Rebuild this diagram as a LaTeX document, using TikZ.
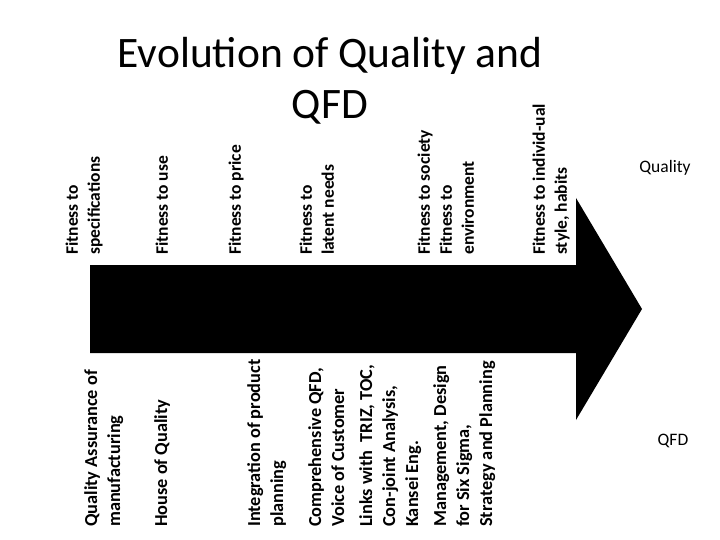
\documentclass[tikz,border=0pt]{standalone}
\usepackage{fontspec}
\setmainfont{Carlito}
\begin{document}
\begin{tikzpicture}[x=1pt,y=-1pt,
  vlabel/.style={rotate=90,anchor=north west,inner sep=0pt,align=left,
    font=\bfseries\fontsize{17.5}{22}\selectfont},
  blabel/.style={vlabel,font=\bfseries\fontsize{18.3}{23}\selectfont},
  side/.style={inner sep=0pt,font=\fontsize{17.5}{21}\selectfont},
  titletext/.style={inner sep=0pt,align=center,font=\fontsize{43.5}{51}\selectfont}]
\useasboundingbox (0,0) rectangle (720,540);
% arrow
\fill[black] (90,265) -- (576,265) -- (576,198) -- (642,309) -- (576,420) -- (576,353) -- (90,353) -- cycle;
% title
\node[titletext,anchor=base] (title) at (330,119) {Evolution of Quality and\\QFD};
% top labels
\node[vlabel] (t1) at (65.5,255) {Fitness to\\specifications};
\node[vlabel] (t2) at (155.5,255) {Fitness to use};
\node[vlabel] (t3) at (228.5,255) {Fitness to price};
\node[vlabel] (t4) at (299.5,255) {Fitness to\\latent needs};
\node[vlabel] (t5) at (417.5,255) {Fitness to society\\Fitness to\\environment};
\node[vlabel] (t6) at (532.5,255) {Fitness to individ-ual\\style, habits};
% bottom labels
\node[blabel] (b1) at (84,527) {Quality Assurance of\\manufacturing};
\node[blabel] (b2) at (154,527) {House of Quality};
\node[blabel] (b3) at (247,527) {Integration of product\\planning};
\node[blabel] (b4) at (308,527) {Comprehensive QFD,\\Voice of Customer\\[5pt]Links with\ \ TRIZ, TOC,\\Con-joint Analysis,\\Kansei Eng.\\[5pt]Management, Design\\for Six Sigma,\\Strategy and Planning};
% side labels
\node[side] (q) at (665,168) {Quality};
\node[side] (qfd) at (673,441) {QFD};
\end{tikzpicture}
\end{document}
